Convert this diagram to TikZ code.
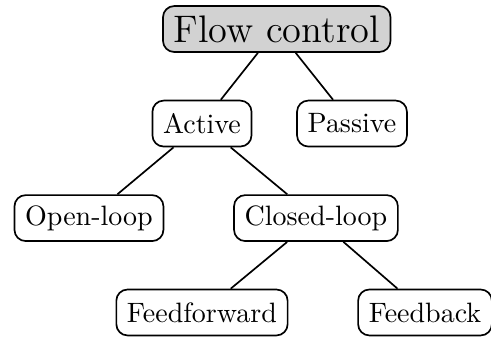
\documentclass[tikz,border=0pt]{standalone}
\usepackage{tikz}
\usepackage{amsmath}

\begin{document}
\begin{tikzpicture}[scale=0.2]
	\tikzstyle{box}=[draw=black, semithick, rounded corners=4pt, minimum height=16.4pt, inner xsep=3.8pt, fill=white]
	\tikzstyle{rootbox}=[box, fill=gray!35, font=\fontsize{13.7pt}{16pt}\selectfont]
	\useasboundingbox (0,0) rectangle (30.8,-21.08);
	\node [rootbox] (flow) at (17.36,-1.82) {Flow control};
	\node [box] (active) at (12.67,-7.75) {Active};
	\node [box] (passive) at (22.08,-7.75) {Passive};
	\node [box] (open) at (5.58,-13.68) {Open-loop};
	\node [box] (closed) at (19.82,-13.68) {Closed-loop};
	\node [box] (ffwd) at (12.67,-19.6) {Feedforward};
	\node [box] (fback) at (26.66,-19.6) {Feedback};
	\draw [black, semithick] (flow) -- (active);
	\draw [black, semithick] (flow) -- (passive);
	\draw [black, semithick] (active) -- (open);
	\draw [black, semithick] (active) -- (closed);
	\draw [black, semithick] (closed) -- (ffwd);
	\draw [black, semithick] (closed) -- (fback);
\end{tikzpicture}
\end{document}
